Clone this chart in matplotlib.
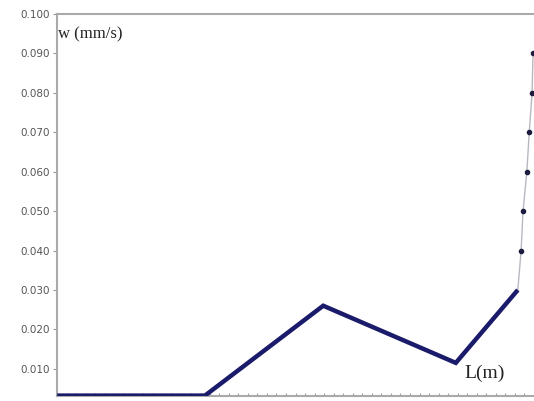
import matplotlib.pyplot as plt
import numpy as np

# main curve w(L)
L_main = [0.0, 3.1, 5.58, 8.36, 9.66]
w_main = [0.0032, 0.0032, 0.026, 0.0115, 0.030]

# steep branch with dot markers
L_steep = [9.66, 9.73, 9.77, 9.85, 9.90, 9.96, 9.98]
w_steep = [0.030, 0.040, 0.050, 0.060, 0.070, 0.080, 0.090]

y_ticks = [0.010, 0.020, 0.030, 0.040, 0.050, 0.060, 0.070, 0.080, 0.090, 0.100]
y_labels = ["0.010", "0.020", "0.030", "0.040", "0.050", "0.060", "0.070", "0.080", "0.090", "0.100"]

fig = plt.figure(figsize=(5.34, 4.01), dpi=100)
ax = fig.add_axes([0.107, 0.0125, 0.893, 0.9525])

ax.plot(L_steep, w_steep, color="#b8b8c0", lw=1.0, zorder=2)
ax.plot(L_steep[1:], w_steep[1:], "o", color="#1c1c40", ms=3.0, zorder=3)
ax.plot(L_main, w_main, color="#1b1b6b", lw=3.2, solid_capstyle="butt",
        solid_joinstyle="miter", zorder=4)

ax.set_xlim(0, 10)
ax.set_ylim(0.0031, 0.100)
ax.set_yticks(y_ticks)
ax.set_yticklabels(y_labels)
ax.tick_params(axis="y", labelsize=7.5, labelcolor="#555555", color="#999999",
               length=3, width=0.8, pad=2)
ax.set_xticks(np.arange(0.2, 10, 0.2))
ax.set_xticklabels([])
ax.tick_params(axis="x", color="#999999", length=2, width=0.8, direction="in")

for side in ["left", "top", "bottom"]:
    ax.spines[side].set_color("#aaaaaa")
    ax.spines[side].set_linewidth(1.5)
ax.spines["right"].set_visible(False)

ax.text(0.002, 0.948, "w (mm/s)", transform=ax.transAxes, family="Liberation Serif",
        fontsize=12, color="#222222", va="center", ha="left")
ax.text(0.855, 0.058, "L(m)", transform=ax.transAxes, family="Liberation Serif",
        fontsize=14, color="#222222", va="center", ha="left")

fig.savefig("out.png", dpi=100)
